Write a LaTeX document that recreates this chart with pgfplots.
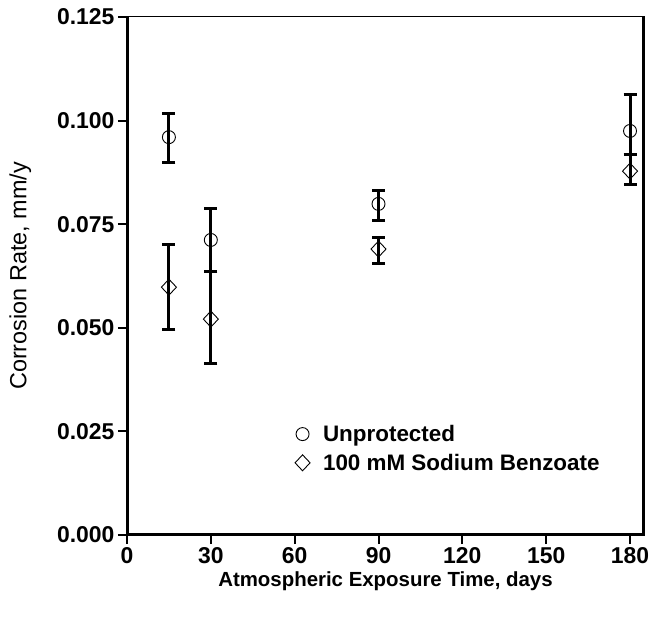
\documentclass[border=0pt]{standalone}
\usepackage{fontspec}
\setmainfont{Liberation Sans}
\usepackage{pgfplots}
\pgfplotsset{compat=1.18}

\pgfplotstableread{
x   y      ep     em
15  0.0960 0.0058 0.0062
30  0.0712 0.0077 0.0077
90  0.0799 0.0032 0.0039
180 0.0975 0.0089 0.0058
}\unprot
\pgfplotstableread{
x   y      ep     em
15  0.0598 0.0104 0.0101
30  0.0521 0.0114 0.0108
90  0.0690 0.0028 0.0034
180 0.0878 0.0039 0.0033
}\benz

\begin{document}
\begin{tikzpicture}
\begin{axis}[
  scale only axis, width=517bp, height=518bp,
  xmin=0, xmax=185, ymin=0, ymax=0.125,
  xtick={0,30,...,180},
  ytick={0,0.025,...,0.125},
  yticklabel style={/pgf/number format/.cd, fixed, fixed zerofill, precision=3},
  /pgf/number format/assume math mode=true,
  tick label style={font=\fontsize{23}{24}\selectfont\bfseries},
  tick align=outside, tick pos=left,
  major tick length=9bp,
  every tick/.style={black, line width=2bp},
  axis line style={line width=1bp},
  xlabel={\fontsize{20.5}{22}\selectfont\bfseries Atmospheric Exposure Time, days},
  ylabel={\fontsize{23.5}{24}\selectfont Corrosion Rate, mm/y},
  xlabel style={yshift=-1bp},
  ylabel style={yshift=19bp},
  legend style={at={(axis cs:59,0.0275)}, anchor=north west, draw=none, fill=none,
    font=\fontsize{22.5}{24}\selectfont\bfseries, row sep=7bp,
    /tikz/every odd column/.append style={column sep=11bp}},
  legend cell align=left,
  error bars/y dir=both, error bars/y explicit,
  error bars/error bar style={line width=3bp, black},
  error bars/error mark options={rotate=90, mark size=6.5bp, line width=3bp, black},
]
\addplot[only marks, mark=o, mark size=6.5bp, mark options={line width=0.9bp, black, fill=none}]
  table[x=x, y=y, y error plus=ep, y error minus=em] {\unprot};
\addlegendentry{Unprotected}
\addplot[only marks, mark=diamond, mark size=8bp, mark options={line width=0.9bp, black, fill=none, xscale=1.25}]
  table[x=x, y=y, y error plus=ep, y error minus=em] {\benz};
\addlegendentry{100 mM Sodium Benzoate}
\draw[line width=3.2bp] (rel axis cs:0,1) -- (rel axis cs:0,0) -- (rel axis cs:1,0) -- (rel axis cs:1,1);
\end{axis}
\pgfresetboundingbox
\path[use as bounding box] (-127bp,-84bp) rectangle (538bp,535bp);
\end{tikzpicture}
\end{document}
